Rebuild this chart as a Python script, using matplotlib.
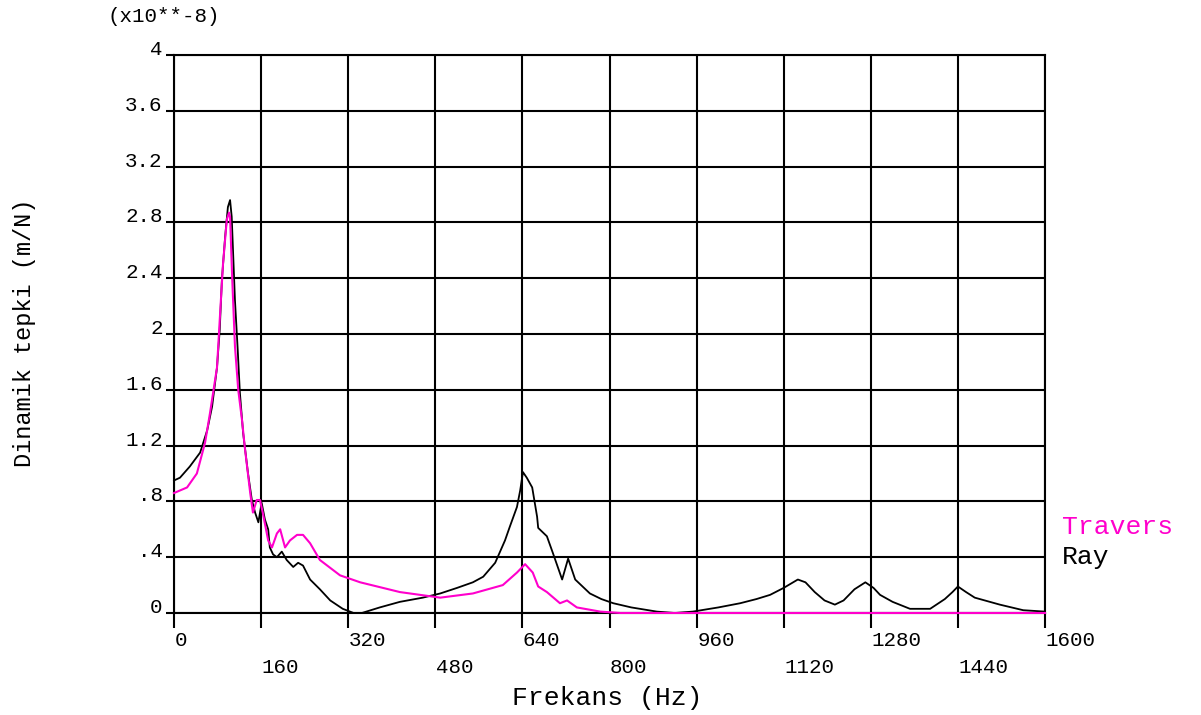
import matplotlib
matplotlib.use("Agg")
import matplotlib.pyplot as plt

# frequency (Hz) and dynamic response (x1e-8 m/N)
ray_freq = [0, 11, 29, 48, 61, 70, 79, 84, 88, 94, 99, 103, 106, 112, 117, 121,
            127, 136, 143, 149, 155, 161, 167, 173, 176, 182, 189, 198, 207, 219,
            228, 237, 250, 268, 287, 310, 330, 345, 378, 415, 457, 489, 520, 549,
            568, 590, 608, 617, 630, 636, 641, 648, 658, 667, 669, 685, 696, 713,
            724, 737, 764, 785, 807, 840, 887, 920, 953, 1000, 1040, 1070, 1095,
            1120, 1146, 1160, 1177, 1195, 1214, 1230, 1250, 1270, 1285, 1297,
            1320, 1352, 1389, 1416, 1430, 1440, 1455, 1471, 1517, 1560, 1600]
ray_resp = [0.95, 0.97, 1.05, 1.15, 1.31, 1.48, 1.76, 2.03, 2.39, 2.70, 2.91, 2.96,
            2.84, 2.24, 1.89, 1.58, 1.29, 1.00, 0.81, 0.72, 0.65, 0.79, 0.67, 0.60,
            0.47, 0.42, 0.40, 0.44, 0.38, 0.33, 0.36, 0.34, 0.24, 0.17, 0.09, 0.03,
            0.00, 0.00, 0.04, 0.08, 0.11, 0.14, 0.18, 0.22, 0.26, 0.36, 0.52, 0.62,
            0.76, 0.88, 1.01, 0.97, 0.90, 0.69, 0.61, 0.55, 0.43, 0.24, 0.39, 0.24,
            0.14, 0.10, 0.07, 0.04, 0.01, 0.00, 0.01, 0.04, 0.07, 0.10, 0.13, 0.18,
            0.24, 0.22, 0.15, 0.09, 0.06, 0.09, 0.17, 0.22, 0.18, 0.13, 0.08, 0.03,
            0.03, 0.10, 0.15, 0.19, 0.15, 0.11, 0.06, 0.02, 0.01]

travers_freq = [0, 24, 42, 57, 66, 79, 84, 90, 97, 101, 103, 107, 112, 118, 125,
                130, 140, 145, 152, 158, 163, 173, 180, 189, 195, 204, 213, 226,
                237, 250, 268, 305, 342, 415, 489, 549, 604, 630, 645, 659, 669,
                685, 709, 722, 740, 783, 820, 1600]
travers_resp = [0.86, 0.90, 1.00, 1.22, 1.43, 1.76, 2.10, 2.50, 2.82, 2.87, 2.84,
                2.39, 1.91, 1.60, 1.38, 1.19, 0.86, 0.72, 0.81, 0.81, 0.72, 0.52,
                0.47, 0.57, 0.60, 0.47, 0.52, 0.56, 0.56, 0.50, 0.38, 0.27, 0.22,
                0.15, 0.11, 0.14, 0.20, 0.29, 0.35, 0.29, 0.19, 0.15, 0.07, 0.09,
                0.04, 0.01, 0.00, 0.00]

x_ticks = [0, 160, 320, 480, 640, 800, 960, 1120, 1280, 1440, 1600]
y_ticks = [0, 0.4, 0.8, 1.2, 1.6, 2, 2.4, 2.8, 3.2, 3.6, 4]
y_tick_labels = ["0", ".4", ".8", "1.2", "1.6", "2", "2.4", "2.8", "3.2", "3.6", "4"]
series_names = ["Travers", "Ray"]
series_colors = ["#ff00cc", "black"]

FONT = "Liberation Mono"

fig = plt.figure(figsize=(12.01, 7.15), dpi=100)
ax = fig.add_axes([174 / 1201, 1 - 613 / 715, 871 / 1201, 558 / 715])

ax.plot(ray_freq, ray_resp, color=series_colors[1], lw=1.3, zorder=4, clip_on=False)
ax.plot(travers_freq, travers_resp, color=series_colors[0], lw=1.5, zorder=5, clip_on=False)

ax.set_xlim(0, 1600)
ax.set_ylim(0, 4)
ax.set_xticks(x_ticks)
ax.set_yticks(y_ticks)
ax.set_xticklabels([])
ax.set_yticklabels([])
ax.grid(True, color="black", lw=1.5)
ax.set_axisbelow(True)
for sp in ax.spines.values():
    sp.set_linewidth(1.5)
ax.tick_params(axis="x", direction="out", length=11, width=1.5)
ax.tick_params(axis="y", direction="out", length=6, width=1.5)

# staggered x tick labels, left-aligned at grid lines
for i, v in enumerate(x_ticks):
    y = -0.05 if i % 2 == 0 else -0.098
    ax.text(v + 1, y, str(v), transform=ax.get_xaxis_transform(), ha="left",
            va="center", family=FONT, fontsize=15)

# y tick labels sitting on their grid lines
for v, lab in zip(y_ticks, y_tick_labels):
    ax.text(-0.013, v, lab, transform=ax.get_yaxis_transform(), ha="right",
            va="baseline", family=FONT, fontsize=15)

fig.text(164 / 1201, 1 - 16 / 715, "(x10**-8)", ha="center", va="center",
         family=FONT, fontsize=15)
fig.text(25 / 1201, 1 - 333 / 715, "Dinamik tepki (m/N)", rotation=90,
         ha="center", va="center", family=FONT, fontsize=17)
fig.text(607 / 1201, 1 - 698 / 715, "Frekans (Hz)", ha="center", va="center",
         family=FONT, fontsize=19)

fig.text(1062 / 1201, 1 - 527 / 715, series_names[0], color=series_colors[0],
         ha="left", va="center", family=FONT, fontsize=19)
fig.text(1062 / 1201, 1 - 557 / 715, series_names[1], color=series_colors[1],
         ha="left", va="center", family=FONT, fontsize=19)

fig.savefig("out.png", dpi=100)
